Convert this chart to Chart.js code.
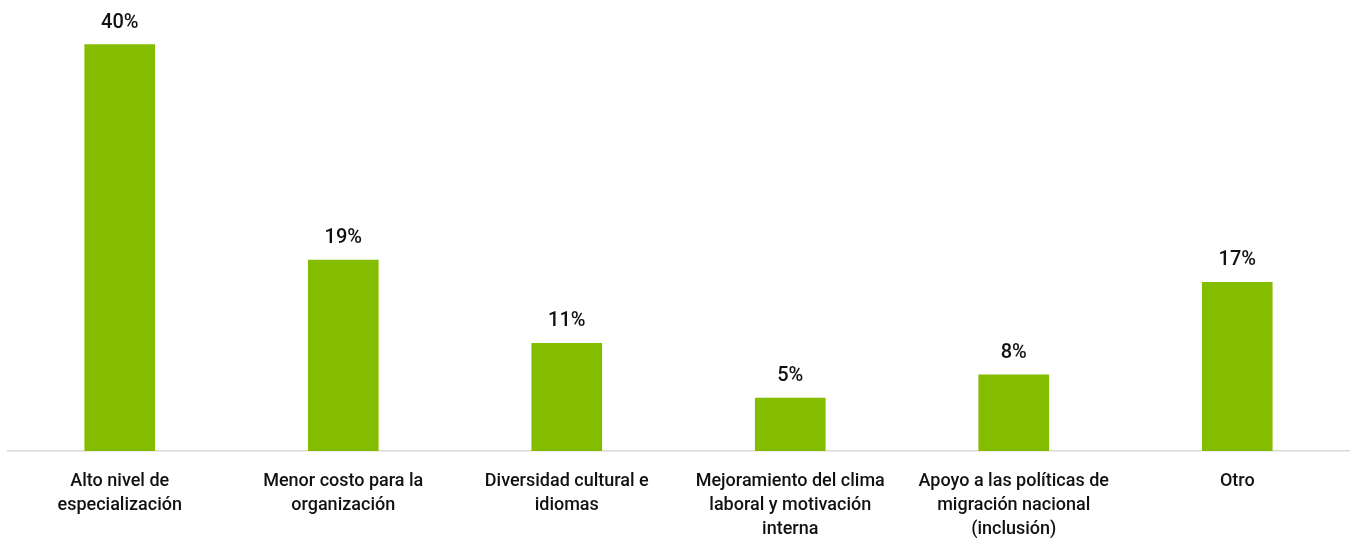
<!DOCTYPE html>
<html>
<head>
<meta charset="utf-8">
<script src="https://cdn.jsdelivr.net/npm/chart.js@4/dist/chart.umd.min.js"></script>
<style>
  html, body { margin: 0; padding: 0; background: #ffffff; }
  #wrap { width: 1351px; height: 545px; position: relative; }
</style>
</head>
<body>
<div id="wrap"><canvas id="c" width="1351" height="545"></canvas></div>
<script>
// Categories (multi-line, as wrapped in the reference)
const categories = [
  ["Alto nivel de", "especialización"],
  ["Menor costo para la", "organización"],
  ["Diversidad cultural e", "idiomas"],
  ["Mejoramiento del clima", "laboral y motivación", "interna"],
  ["Apoyo a las políticas de", "migración nacional", "(inclusión)"],
  ["Otro"]
];
// Percentages
const values = [40.0, 18.8, 10.6, 5.2, 7.5, 16.6];
// Value labels shown above the bars
const valueLabels = ["40%", "19%", "11%", "5%", "8%", "17%"];

const FONT = "Roboto, 'DejaVu Sans Condensed', sans-serif";
const BAR_COLOR = "#84bc00";
const TEXT_COLOR = "#111111";

const valueLabelPlugin = {
  id: 'valueLabels',
  afterDatasetsDraw(chart) {
    const ctx = chart.ctx;
    const meta = chart.getDatasetMeta(0);
    ctx.save();
    ctx.font = "500 20px " + FONT;
    ctx.fillStyle = TEXT_COLOR;
    ctx.textAlign = 'center';
    ctx.textBaseline = 'alphabetic';
    meta.data.forEach((el, i) => {
      ctx.fillText(valueLabels[i], el.x, el.y - 17);
    });
    ctx.restore();
  }
};

new Chart(document.getElementById('c'), {
  type: 'bar',
  data: {
    labels: categories,
    datasets: [{
      data: values,
      backgroundColor: BAR_COLOR,
      borderWidth: 0,
      barThickness: 70
    }]
  },
  options: {
    responsive: false,
    animation: false,
    devicePixelRatio: 1,
    layout: { padding: { top: 4, left: 8, right: 2, bottom: 0 } },
    plugins: {
      legend: { display: false },
      tooltip: { enabled: false }
    },
    scales: {
      x: {
        grid: { display: false },
        border: { display: true, color: '#d9d9d9', width: 1.5 },
        ticks: {
          color: TEXT_COLOR,
          font: { family: FONT, size: 18, weight: '500', lineHeight: '24px' },
          padding: 10,
          maxRotation: 0,
          autoSkip: false
        },
        afterFit(scale) { scale.height = 94; }
      },
      y: {
        display: false,
        min: 0,
        max: 44
      }
    }
  },
  plugins: [valueLabelPlugin]
});
</script>
</body>
</html>
